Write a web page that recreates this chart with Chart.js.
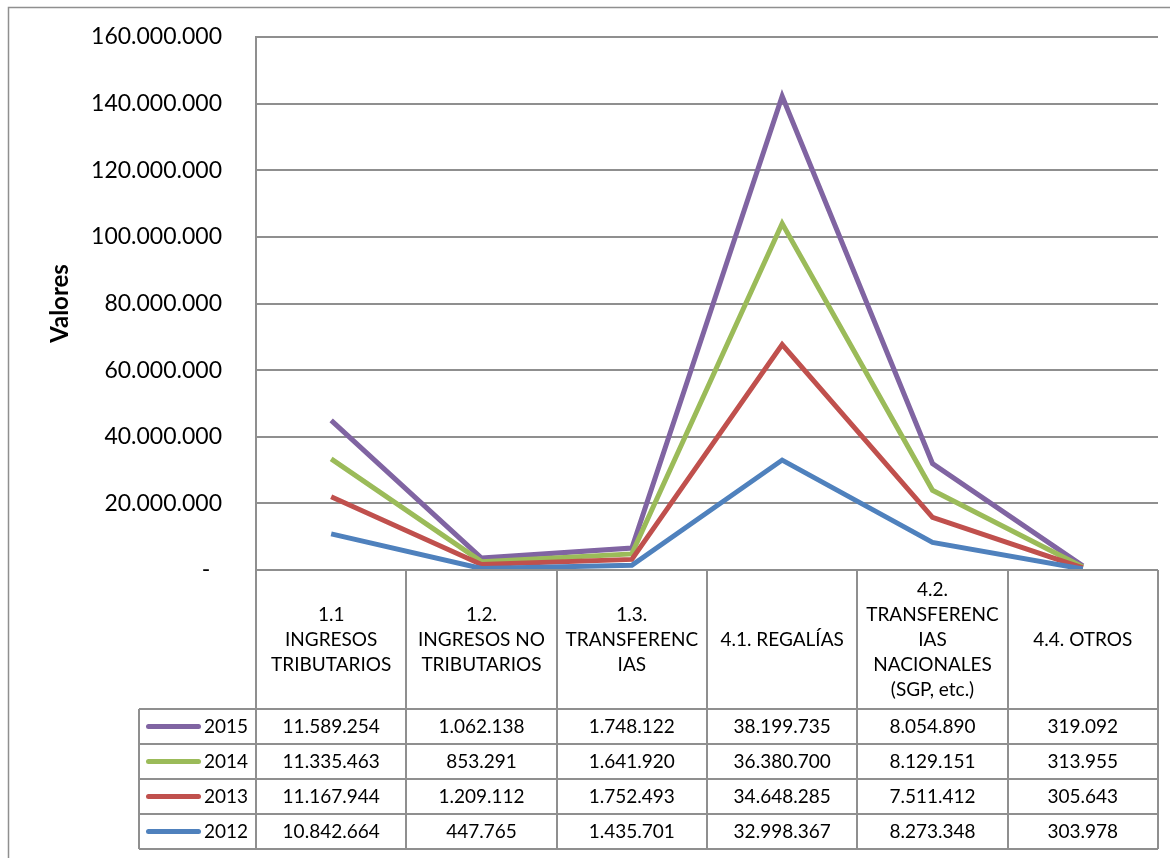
<!DOCTYPE html>
<html>
<head>
<meta charset="utf-8">
<script src="https://cdn.jsdelivr.net/npm/chart.js@4"></script>
<style>
  body { margin: 0; background: #fff; }
  canvas { display: block; }
</style>
</head>
<body>
<canvas id="chart" width="1170" height="858"></canvas>
<script>
var categories = [
    ['1.1', 'INGRESOS', 'TRIBUTARIOS'],
    ['1.2.', 'INGRESOS NO', 'TRIBUTARIOS'],
    ['1.3.', 'TRANSFERENC', 'IAS'],
    ['4.1. REGALÍAS'],
    ['4.2.', 'TRANSFERENC', 'IAS', 'NACIONALES', '(SGP, etc.)'],
    ['4.4. OTROS']
];
var years = ['2012', '2013', '2014', '2015'];
var values2012 = [10842664, 447765, 1435701, 32998367, 8273348, 303978];
var values2013 = [11167944, 1209112, 1752493, 34648285, 7511412, 305643];
var values2014 = [11335463, 853291, 1641920, 36380700, 8129151, 313955];
var values2015 = [11589254, 1062138, 1748122, 38199735, 8054890, 319092];
var colors = ['#4F81BD', '#C0504D', '#9BBB59', '#8064A2'];
var yTicks = [0, 20000000, 40000000, 60000000, 80000000, 100000000, 120000000, 140000000, 160000000];

var seriesValues = [values2012, values2013, values2014, values2015];
var fontFamily = 'Lato, "Open Sans", sans-serif';
var gridColor = '#8f8f8f';

function formatNum(n) {
    var s = String(Math.round(n));
    var out = '';
    while (s.length > 3) {
        out = '.' + s.slice(-3) + out;
        s = s.slice(0, -3);
    }
    return s + out;
}

// draws the data table under the plot, the axis title and the frame
var tablePlugin = {
    id: 'tablePlugin',
    afterDraw: function(chart) {
        var ctx = chart.ctx;
        var area = chart.chartArea;
        var colW = (area.right - area.left) / categories.length;
        var catTop = area.bottom;
        var catBottom = 709;
        var rowH = 35;
        var legendLeft = 139;
        var tableBottom = catBottom + rowH * years.length;

        ctx.save();

        // outer frame
        ctx.strokeStyle = gridColor;
        ctx.lineWidth = 1.5;
        ctx.strokeRect(8.5, 7.5, 1200, 900);

        // axis title
        ctx.fillStyle = '#000';
        ctx.font = 'bold 24px ' + fontFamily;
        ctx.textAlign = 'center';
        ctx.textBaseline = 'middle';
        ctx.translate(60, (area.top + area.bottom) / 2);
        ctx.rotate(-Math.PI / 2);
        ctx.fillText('Valores', 0, 0);
        ctx.restore();

        ctx.save();
        ctx.strokeStyle = gridColor;
        ctx.lineWidth = 2;
        ctx.beginPath();
        // vertical column lines
        for (var i = 0; i <= categories.length; i++) {
            var x = Math.round(area.left + colW * i);
            ctx.moveTo(x, catTop);
            ctx.lineTo(x, tableBottom);
        }
        ctx.moveTo(legendLeft, catBottom);
        ctx.lineTo(legendLeft, tableBottom);
        // horizontal lines
        ctx.moveTo(area.left, catTop);
        ctx.lineTo(area.right, catTop);
        for (var r = 0; r <= years.length; r++) {
            var y = catBottom + rowH * r;
            ctx.moveTo(legendLeft, y);
            ctx.lineTo(area.right, y);
        }
        ctx.stroke();

        // category labels
        ctx.fillStyle = '#000';
        ctx.font = '19px ' + fontFamily;
        ctx.textAlign = 'center';
        ctx.textBaseline = 'middle';
        var lineH = 25;
        var midY = (catTop + catBottom) / 2;
        for (var c = 0; c < categories.length; c++) {
            var lines = categories[c];
            var cx = area.left + colW * (c + 0.5);
            var startY = midY - (lines.length - 1) * lineH / 2;
            for (var l = 0; l < lines.length; l++) {
                ctx.fillText(lines[l], cx, startY + l * lineH);
            }
        }

        // legend rows with values, newest year on top
        for (var r2 = 0; r2 < years.length; r2++) {
            var s = years.length - 1 - r2;
            var cy = catBottom + rowH * (r2 + 0.5);
            ctx.strokeStyle = colors[s];
            ctx.lineWidth = 5;
            ctx.lineCap = 'round';
            ctx.beginPath();
            ctx.moveTo(148.5, cy);
            ctx.lineTo(198.5, cy);
            ctx.stroke();
            ctx.fillStyle = '#000';
            ctx.textAlign = 'left';
            ctx.fillText(years[s], 204, cy);
            ctx.textAlign = 'center';
            for (var c2 = 0; c2 < categories.length; c2++) {
                ctx.fillText(formatNum(seriesValues[s][c2]), area.left + colW * (c2 + 0.5), cy);
            }
        }
        ctx.restore();
    }
};

var datasets = [];
for (var i = 0; i < years.length; i++) {
    datasets.push({
        label: years[i],
        data: seriesValues[i],
        borderColor: colors[i],
        backgroundColor: colors[i],
        borderWidth: 5,
        pointRadius: 0,
        fill: false,
        tension: 0,
        order: i
    });
}

var chart = new Chart(document.getElementById('chart').getContext('2d'), {
    type: 'line',
    data: {
        labels: categories.map(function(c) { return c.join(' '); }),
        datasets: datasets
    },
    options: {
        responsive: false,
        animation: false,
        devicePixelRatio: 1,
        layout: {
            padding: { left: 0, top: 37, right: 12, bottom: 288 }
        },
        plugins: {
            legend: { display: false },
            tooltip: { enabled: false }
        },
        scales: {
            x: {
                display: false,
                offset: true
            },
            y: {
                stacked: true,
                min: 0,
                max: 160000000,
                afterFit: function(scale) {
                    scale.width = 256;
                    scale.paddingTop = 0;
                    scale.paddingBottom = 0;
                },
                afterBuildTicks: function(scale) {
                    scale.ticks = yTicks.map(function(v) { return { value: v }; });
                },
                grid: {
                    color: gridColor,
                    lineWidth: 2,
                    drawTicks: false
                },
                border: { color: gridColor, width: 2 },
                ticks: {
                    padding: 34,
                    color: '#000',
                    font: { family: fontFamily, size: 23 },
                    callback: function(v) { return v === 0 ? '-  ' : formatNum(v); }
                }
            }
        }
    },
    plugins: [tablePlugin]
});
</script>
</body>
</html>
